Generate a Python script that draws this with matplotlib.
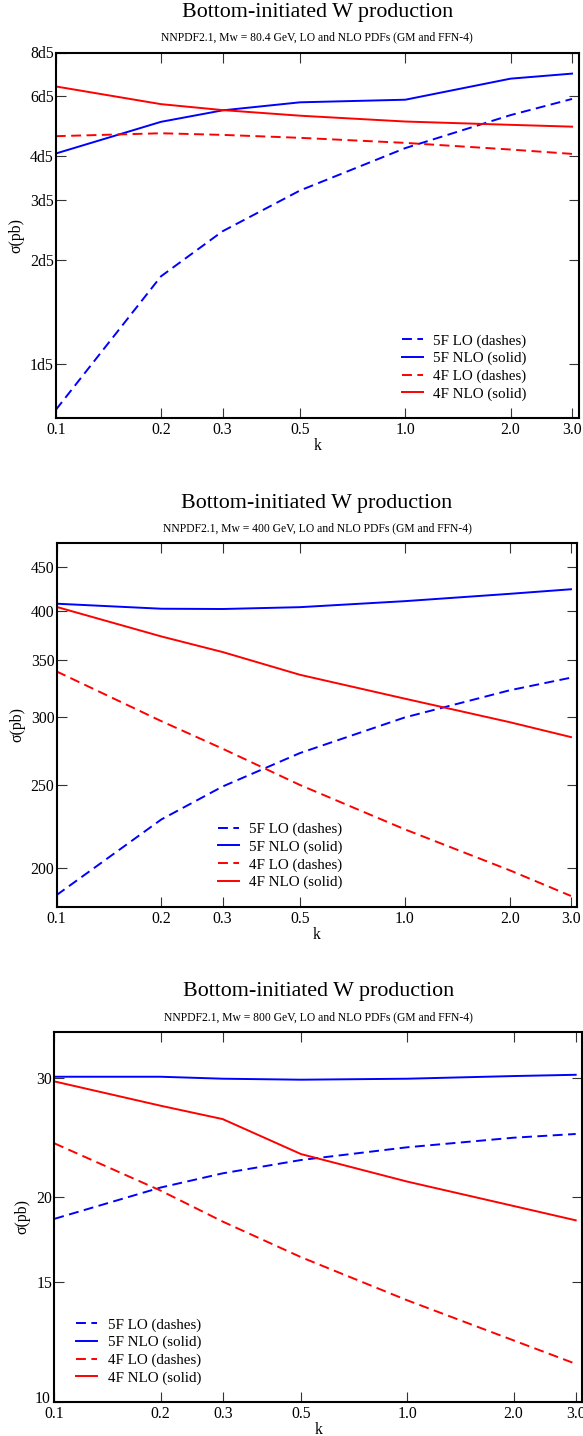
import matplotlib
matplotlib.use("Agg")
import matplotlib.pyplot as plt
from matplotlib.ticker import NullLocator

plt.rcParams['font.family'] = ['Liberation Serif', 'DejaVu Serif']

# renormalisation scale factor k
k = [0.1, 0.2, 0.3, 0.5, 1.0, 2.0, 3.0]

# Mw = 80.4 GeV cross sections (pb)
mw80_5f_lo = [0.739e5, 1.80e5, 2.43e5, 3.19e5, 4.23e5, 5.27e5, 5.87e5]
mw80_5f_nlo = [4.08e5, 5.04e5, 5.44e5, 5.74e5, 5.84e5, 6.72e5, 6.95e5]
mw80_4f_lo = [4.58e5, 4.67e5, 4.62e5, 4.53e5, 4.38e5, 4.19e5, 4.07e5]
mw80_4f_nlo = [6.38e5, 5.67e5, 5.45e5, 5.25e5, 5.05e5, 4.94e5, 4.88e5]

# Mw = 400 GeV cross sections (pb)
mw400_5f_lo = [185.7, 227.8, 249.0, 272.5, 300.0, 322.8, 334.0]
mw400_5f_nlo = [407.8, 402.3, 402.0, 404.0, 410.6, 418.8, 424.0]
mw400_4f_lo = [339.7, 297.0, 275.7, 250.0, 221.8, 198.6, 185.3]
mw400_4f_nlo = [404.3, 373.3, 357.9, 336.6, 315.6, 296.2, 284.5]

# Mw = 800 GeV cross sections (pb)
mw800_5f_lo = [18.59, 20.67, 21.69, 22.69, 23.69, 24.47, 24.78]
mw800_5f_nlo = [30.08, 30.08, 29.88, 29.78, 29.88, 30.15, 30.28]
mw800_4f_lo = [24.01, 20.46, 18.42, 16.33, 14.11, 12.32, 11.38]
mw800_4f_nlo = [29.61, 27.27, 26.06, 23.15, 21.09, 19.42, 18.50]

x_ticks = [0.1, 0.2, 0.3, 0.5, 1.0, 2.0, 3.0]
x_tick_labels = ['0.1', '0.2', '0.3', '0.5', '1.0', '2.0', '3.0']

y1_ticks = [1e5, 2e5, 3e5, 4e5, 6e5, 8e5]
y1_labels = ['1d5', '2d5', '3d5', '4d5', '6d5', '8d5']
y2_ticks = [200, 250, 300, 350, 400, 450]
y2_labels = ['200', '250', '300', '350', '400', '450']
y3_ticks = [10, 15, 20, 30]
y3_labels = ['10', '15', '20', '30']

subtitles = [
    'NNPDF2.1, Mw = 80.4 GeV, LO and NLO PDFs (GM and FFN-4)',
    'NNPDF2.1, Mw = 400 GeV, LO and NLO PDFs (GM and FFN-4)',
    'NNPDF2.1, Mw = 800 GeV, LO and NLO PDFs (GM and FFN-4)',
]
legend_labels = ['5F LO (dashes)', '5F NLO (solid)', '4F LO (dashes)', '4F NLO (solid)']

W, H = 583, 1436
fig = plt.figure(figsize=(W / 100, H / 100), dpi=100)

# panel boxes in pixels: left, right, top, bottom
boxes = [
    (55.8, 578.5, 52.5, 418.0),
    (56.5, 577.4, 543.3, 906.7),
    (54.3, 582.2, 1032.0, 1402.0),
]
ylims = [(7e4, 8e5), (180, 480), (10, 35)]
yticks = [(y1_ticks, y1_labels), (y2_ticks, y2_labels), (y3_ticks, y3_labels)]
series = [
    (mw80_5f_lo, mw80_5f_nlo, mw80_4f_lo, mw80_4f_nlo),
    (mw400_5f_lo, mw400_5f_nlo, mw400_4f_lo, mw400_4f_nlo),
    (mw800_5f_lo, mw800_5f_nlo, mw800_4f_lo, mw800_4f_nlo),
]
# legend anchor: handle start x, vertical centre y (pixels)
legend_pos = [(401.7, 367.5), (217.7, 855.9), (76.0, 1351.4)]

FS = 11.3
LFS = 10.8
LW = 1.4
DASH = (5.1, 2.8)

for i in range(3):
    l, r, t, b = boxes[i]
    ax = fig.add_axes([l / W, 1 - b / H, (r - l) / W, (b - t) / H])
    lo5, nlo5, lo4, nlo4 = series[i]
    h1, = ax.plot(k, lo5, color='#0000ff', lw=LW, ls=(0, DASH))
    h2, = ax.plot(k, nlo5, color='#0000ff', lw=LW)
    h3, = ax.plot(k, lo4, color='#ff0000', lw=LW, ls=(0, DASH))
    h4, = ax.plot(k, nlo4, color='#ff0000', lw=LW)

    ax.set_xscale('log')
    ax.set_yscale('log')
    ax.set_xlim(0.1, 3.13)
    ax.set_ylim(*ylims[i])
    ax.set_xticks(x_ticks, x_tick_labels)
    ticks, labels = yticks[i]
    # the lowest label of the last panel sits in the corner; it is drawn
    # separately, nudged up a little, so it clears the first x label
    corner = (i == 2)
    shown = ['' if (corner and v == ylims[i][0]) else s for v, s in zip(ticks, labels)]
    ax.set_yticks(ticks, shown)
    if corner:
        ax.annotate(labels[0], xy=(0, ylims[i][0]),
                    xycoords=('axes fraction', 'data'),
                    xytext=(-2.6, 2.2), textcoords='offset points',
                    ha='right', va='center', fontsize=FS)
    ax.xaxis.set_minor_locator(NullLocator())
    ax.yaxis.set_minor_locator(NullLocator())
    ax.tick_params(which='major', direction='in', length=7.2, width=0.8,
                   top=True, right=True, labelsize=FS, color='#333333')
    ax.tick_params(axis='x', pad=3)
    ax.tick_params(axis='y', pad=1.5)
    for s in ax.spines.values():
        s.set_linewidth(1.5)
        s.set_color('black')

    ax.set_xlabel('k', fontsize=FS, labelpad=0)
    ax.set_ylabel('σ(pb)', fontsize=FS, labelpad=4)

    cx = (l + r) / 2 / W
    fig.text(cx, 1 - (t - 35.7) / H, 'Bottom-initiated W production',
             ha='center', va='baseline', fontsize=15.8)
    fig.text(cx, 1 - (t - 12.0) / H, subtitles[i],
             ha='center', va='baseline', fontsize=8.4)

    lx, ly = legend_pos[i]
    fig.legend([h1, h2, h3, h4], legend_labels, loc='center left',
               bbox_to_anchor=(lx / W, 1 - ly / H), frameon=False,
               fontsize=LFS, handlelength=1.43, handletextpad=0.67,
               labelspacing=0.27, borderpad=0, borderaxespad=0)

fig.savefig('out.png', dpi=100)
